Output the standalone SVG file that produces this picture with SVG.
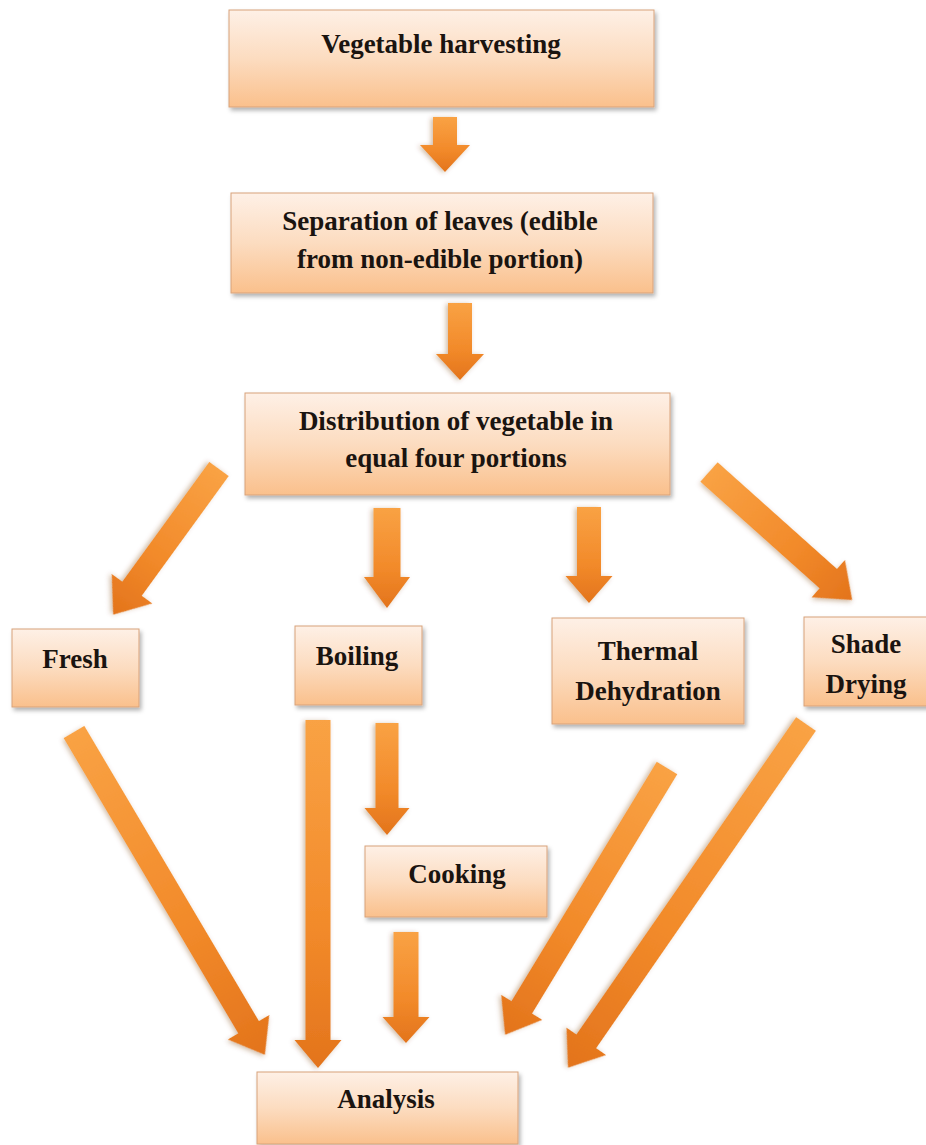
<svg xmlns="http://www.w3.org/2000/svg" width="926" height="1145" viewBox="0 0 926 1145">
<defs>
<linearGradient id="boxg" x1="0" y1="0" x2="0" y2="1">
<stop offset="0" stop-color="#FEF0E6"/>
<stop offset="0.5" stop-color="#FCDCC0"/>
<stop offset="1" stop-color="#FAC08C"/>
</linearGradient>
<linearGradient id="arrg" x1="0" y1="0" x2="1" y2="0">
<stop offset="0" stop-color="#F9A244"/>
<stop offset="0.6" stop-color="#F28A2A"/>
<stop offset="1" stop-color="#E3741C"/>
</linearGradient>
<filter id="sh" x="-20%" y="-20%" width="140%" height="140%">
<feDropShadow dx="2" dy="3" stdDeviation="2" flood-color="#000" flood-opacity="0.3"/>
</filter>
<filter id="ash" x="-20%" y="-20%" width="140%" height="140%">
<feDropShadow dx="1" dy="2" stdDeviation="2.5" flood-color="#7a3a00" flood-opacity="0.35"/>
</filter>
</defs>
<style>
.box{fill:url(#boxg);stroke:#D8A27A;stroke-width:1;filter:url(#sh)}
.arr{fill:url(#arrg);filter:url(#ash)}
text{font-family:"Liberation Serif","Times New Roman",serif;font-weight:bold;font-size:27px;fill:#1a1410;text-anchor:middle}
</style>
<rect width="926" height="1145" fill="#fff"/>
<g id="connectors">
<path class="arr" transform="translate(445,117) rotate(90)" d="M0,-12 L28,-12 L28,-25 L55,0 L28,25 L28,12 L0,12Z"/>
<path class="arr" transform="translate(460,303) rotate(90)" d="M0,-12 L51,-12 L51,-24 L77,0 L51,24 L51,12 L0,12Z"/>
<path class="arr" transform="translate(219,469) rotate(126)" d="M0,-12 L148,-12 L148,-25 L180,0 L148,25 L148,12 L0,12Z"/>
<path class="arr" transform="translate(387,508) rotate(90)" d="M0,-13.5 L69,-13.5 L69,-23 L100,0 L69,23 L69,13.5 L0,13.5Z"/>
<path class="arr" transform="translate(589,507) rotate(90)" d="M0,-12 L69,-12 L69,-23.5 L96,0 L69,23.5 L69,12 L0,12Z"/>
<path class="arr" transform="translate(709,472) rotate(41.8)" d="M0,-13 L160,-13 L160,-25 L192,0 L160,25 L160,13 L0,13Z"/>
<path class="arr" transform="translate(318,720) rotate(90)" d="M0,-12.5 L320,-12.5 L320,-23.5 L348,0 L320,23.5 L320,12.5 L0,12.5Z"/>
<path class="arr" transform="translate(387,723) rotate(90)" d="M0,-11.5 L85,-11.5 L85,-22.5 L112,0 L85,22.5 L85,11.5 L0,11.5Z"/>
<path class="arr" transform="translate(406,932) rotate(90)" d="M0,-12.5 L85,-12.5 L85,-23.5 L111,0 L85,23.5 L85,12.5 L0,12.5Z"/>
<path class="arr" transform="translate(74,732) rotate(59.4)" d="M0,-12 L343,-12 L343,-24 L375,0 L343,24 L343,12 L0,12Z"/>
<path class="arr" transform="translate(667,768) rotate(121.25)" d="M0,-12 L280,-12 L280,-24 L312,0 L280,24 L280,12 L0,12Z"/>
<path class="arr" transform="translate(806,724) rotate(124.7)" d="M0,-12 L386,-12 L386,-24 L418,0 L386,24 L386,12 L0,12Z"/>
</g>
<g id="harvesting">
<rect class="box" x="229" y="10" width="425" height="97"/>
<text x="441" y="53">Vegetable harvesting</text>
</g>
<g id="separation">
<rect class="box" x="231" y="193" width="422" height="100"/>
<text x="440" y="230">Separation of leaves (edible</text>
<text x="440" y="268">from non-edible portion)</text>
</g>
<g id="distribution">
<rect class="box" x="245" y="393" width="425" height="102"/>
<text x="456" y="430">Distribution of vegetable in</text>
<text x="456" y="467">equal four portions</text>
</g>
<g id="fresh">
<rect class="box" x="12" y="629" width="127" height="78"/>
<text x="75" y="668">Fresh</text>
</g>
<g id="boiling">
<rect class="box" x="295" y="626" width="127" height="79"/>
<text x="357" y="665">Boiling</text>
</g>
<g id="thermal">
<rect class="box" x="552" y="618" width="192" height="106"/>
<text x="648" y="660">Thermal</text>
<text x="648" y="700">Dehydration</text>
</g>
<g id="shade">
<rect class="box" x="804" y="617" width="128" height="89"/>
<text x="866" y="653">Shade</text>
<text x="866" y="693">Drying</text>
</g>
<g id="cooking">
<rect class="box" x="365" y="846" width="182" height="71"/>
<text x="457" y="883">Cooking</text>
</g>
<g id="analysis">
<rect class="box" x="257" y="1072" width="261" height="72"/>
<text x="386" y="1108">Analysis</text>
</g>
</svg>
